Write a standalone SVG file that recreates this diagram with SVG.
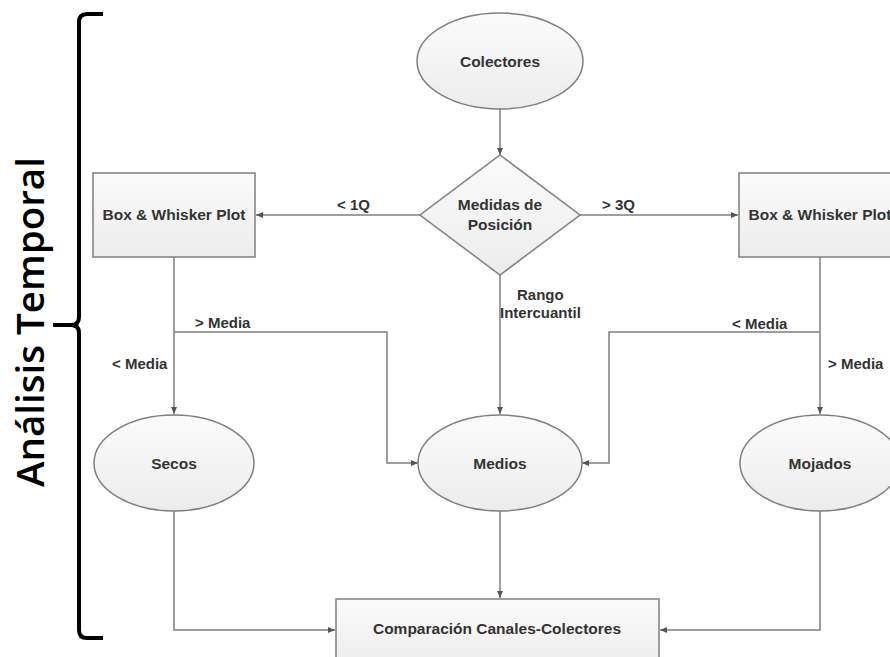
<svg xmlns="http://www.w3.org/2000/svg" width="890" height="657" viewBox="0 0 890 657">
<style>
.shape{stroke:#7f7f7f;stroke-width:1.5;fill:url(#g)}
.conn{fill:none;stroke:#7f7f7f;stroke-width:1.5;marker-end:url(#arr)}
.t{font-family:"Liberation Sans",Arial,sans-serif;font-weight:bold;font-size:15.5px;fill:#333;text-anchor:middle}
.lbl{font-family:"Liberation Sans",Arial,sans-serif;font-weight:bold;font-size:15px;fill:#333}
</style>
<defs>
<linearGradient id="g" x1="0" y1="0" x2="0" y2="1">
<stop offset="0" stop-color="#fbfbfb"/>
<stop offset="1" stop-color="#ececec"/>
</linearGradient>
<marker id="arr" markerWidth="8" markerHeight="8" refX="7" refY="4" orient="auto" markerUnits="userSpaceOnUse">
<path d="M0,1 L7,4 L0,7 Z" fill="#555"/>
</marker>
</defs>
<rect width="890" height="657" fill="#fff"/>
<g id="bracket">
<path d="M103 14 H87 Q79 14 79 22 V317 Q79 325 71 325 H53 M71 325 Q79 325 79 333 V630 Q79 638 87 638 H103" fill="none" stroke="#000" stroke-width="4"/>
<text transform="translate(44,322) rotate(-90)" font-family="'Open Sans',sans-serif" font-size="38.5" font-weight="600" fill="#000" text-anchor="middle">Análisis Temporal</text>
</g>
<g id="connectors">
<path class="conn" d="M500 109 V155"/>
<path class="conn" d="M420 215 H256"/>
<path class="conn" d="M580 215 H738"/>
<path class="conn" d="M500 275 V414"/>
<path class="conn" d="M174 257 V414"/>
<path class="conn" d="M174 332 H387 V463 H418"/>
<path class="conn" d="M820 257 V414"/>
<path class="conn" d="M820 332 H609 V463 H582"/>
<path class="conn" d="M174 511 V630 H335"/>
<path class="conn" d="M500 511 V598"/>
<path class="conn" d="M820 511 V630 H660"/>
<text class="lbl" x="337" y="210">&lt; 1Q</text>
<text class="lbl" x="602" y="210">&gt; 3Q</text>
<text class="lbl" x="517" y="300">Rango</text>
<text class="lbl" x="500" y="318">Intercuantil</text>
<text class="lbl" x="195" y="328">&gt; Media</text>
<text class="lbl" x="112" y="369">&lt; Media</text>
<text class="lbl" x="732" y="329">&lt; Media</text>
<text class="lbl" x="828" y="369">&gt; Media</text>
</g>
<g id="colectores">
<ellipse class="shape" cx="500" cy="61" rx="83" ry="48"/>
<text class="t" x="500" y="67">Colectores</text>
</g>
<g id="medidas">
<polygon class="shape" points="500,155 580,215 500,275 420,215"/>
<text class="t" x="500" y="210">Medidas de</text>
<text class="t" x="500" y="230">Posición</text>
</g>
<g id="box-left">
<rect class="shape" x="93" y="173" width="162" height="84"/>
<text class="t" x="174" y="220">Box &amp; Whisker Plot</text>
</g>
<g id="box-right">
<rect class="shape" x="739" y="173" width="162" height="84"/>
<text class="t" x="820" y="220">Box &amp; Whisker Plot</text>
</g>
<g id="secos">
<ellipse class="shape" cx="174" cy="463" rx="80" ry="48"/>
<text class="t" x="174" y="469">Secos</text>
</g>
<g id="medios">
<ellipse class="shape" cx="500" cy="463" rx="82" ry="48"/>
<text class="t" x="500" y="469">Medios</text>
</g>
<g id="mojados">
<ellipse class="shape" cx="820" cy="463" rx="80" ry="48"/>
<text class="t" x="820" y="469">Mojados</text>
</g>
<g id="comparacion">
<rect class="shape" x="336" y="599" width="323" height="70"/>
<text class="t" x="497" y="634">Comparación Canales-Colectores</text>
</g>
</svg>
